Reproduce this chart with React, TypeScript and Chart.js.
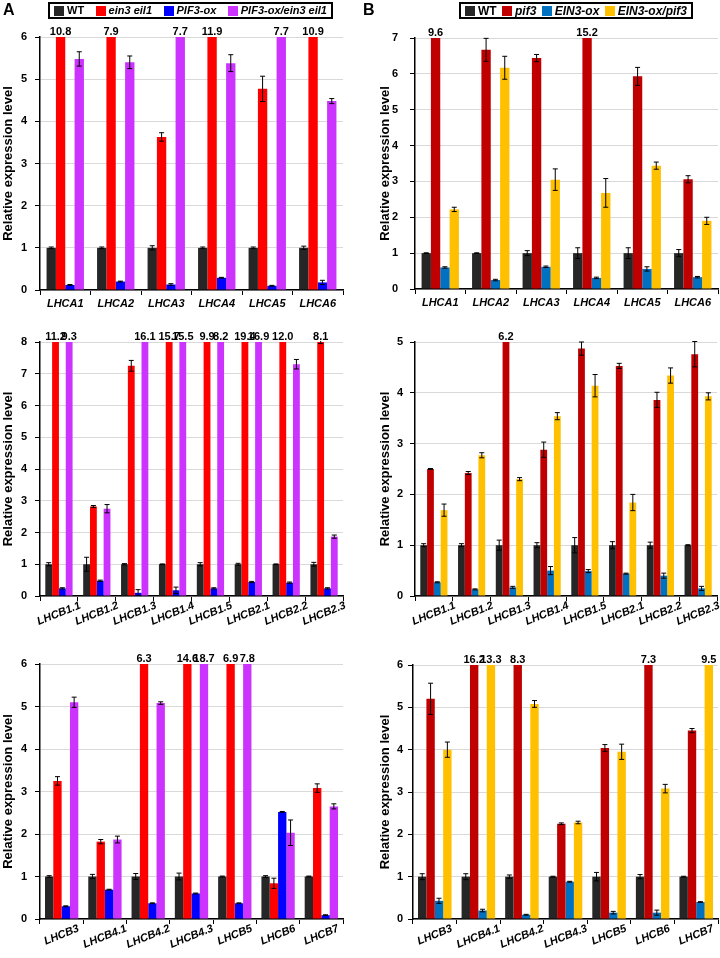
import React, { useEffect, useRef } from "react";
import { Chart, registerables } from "chart.js";

Chart.register(...registerables);

const FONT = "'Liberation Sans', Arial, Helvetica, sans-serif";

// ---------- categories ----------
const lhcaGenes = ["LHCA1", "LHCA2", "LHCA3", "LHCA4", "LHCA5", "LHCA6"];
const lhcb1Genes = ["LHCB1.1", "LHCB1.2", "LHCB1.3", "LHCB1.4", "LHCB1.5", "LHCB2.1", "LHCB2.2", "LHCB2.3"];
const lhcb3Genes = ["LHCB3", "LHCB4.1", "LHCB4.2", "LHCB4.3", "LHCB5", "LHCB6", "LHCB7"];

// ---------- series names ----------
const seriesA = ["WT", "ein3 eil1", "PIF3-ox", "PIF3-ox/ein3 eil1"];
const seriesB = ["WT", "pif3", "EIN3-ox", "EIN3-ox/pif3"];
const colorsA = ["#262626", "#FF0000", "#0000FF", "#CC33FF"];
const colorsB = ["#262626", "#C00000", "#0070C0", "#FFC000"];

// ---------- panel A, LHCA ----------
const aTopWT = [1, 1, 1, 1, 1, 1];
const aTopWTErr = [0.02, 0.02, 0.05, 0.02, 0.02, 0.04];
const aTopEin = [10.8, 7.9, 3.63, 11.9, 4.77, 10.9];
const aTopEinErr = [0, 0, 0.1, 0, 0.3, 0];
const aTopPif = [0.12, 0.2, 0.13, 0.29, 0.1, 0.18];
const aTopPifErr = [0.01, 0.01, 0.02, 0.01, 0.01, 0.05];
const aTopDbl = [5.48, 5.4, 7.7, 5.38, 7.7, 4.48];
const aTopDblErr = [0.17, 0.15, 0, 0.2, 0, 0.06];

// ---------- panel B, LHCA ----------
const bTopWT = [1, 1, 1, 1, 1, 1];
const bTopWTErr = [0.01, 0.01, 0.07, 0.15, 0.15, 0.1];
const bTopPif3 = [9.6, 6.67, 6.44, 15.2, 5.93, 3.06];
const bTopPif3Err = [0, 0.32, 0.1, 0, 0.25, 0.1];
const bTopEin = [0.6, 0.25, 0.62, 0.31, 0.56, 0.33];
const bTopEinErr = [0.02, 0.02, 0.02, 0.02, 0.06, 0.02];
const bTopDbl = [2.22, 6.17, 3.05, 2.68, 3.44, 1.9];
const bTopDblErr = [0.06, 0.32, 0.3, 0.4, 0.1, 0.1];

// ---------- panel A, LHCB1/2 ----------
const aMidWT = [1, 1, 1, 1, 1, 1, 1, 1];
const aMidWTErr = [0.05, 0.22, 0.02, 0.01, 0.05, 0.03, 0.01, 0.06];
const aMidEin = [11.2, 2.82, 7.25, 15.7, 9.9, 19.4, 12.0, 8.1];
const aMidEinErr = [0, 0.03, 0.17, 0, 0, 0, 0, 0.15];
const aMidPif = [0.24, 0.48, 0.1, 0.18, 0.24, 0.44, 0.42, 0.24];
const aMidPifErr = [0.02, 0.02, 0.1, 0.1, 0.02, 0.02, 0.02, 0.02];
const aMidDbl = [9.3, 2.75, 16.1, 15.5, 8.2, 16.9, 7.3, 1.87];
const aMidDblErr = [0, 0.13, 0, 0, 0, 0, 0.15, 0.05];

// ---------- panel B, LHCB1/2 ----------
const bMidWT = [1, 1, 1, 1, 1, 1, 1, 1];
const bMidWTErr = [0.03, 0.03, 0.1, 0.05, 0.15, 0.07, 0.06, 0.01];
const bMidPif3 = [2.5, 2.42, 6.2, 2.88, 4.87, 4.53, 3.86, 4.76];
const bMidPif3Err = [0.01, 0.03, 0, 0.15, 0.13, 0.05, 0.15, 0.25];
const bMidEin = [0.27, 0.13, 0.17, 0.5, 0.49, 0.44, 0.4, 0.15];
const bMidEinErr = [0.01, 0.01, 0.02, 0.08, 0.03, 0.01, 0.05, 0.04];
const bMidDbl = [1.69, 2.77, 2.3, 3.54, 4.14, 1.84, 4.34, 3.93];
const bMidDblErr = [0.12, 0.05, 0.03, 0.07, 0.22, 0.16, 0.15, 0.07];

// ---------- panel A, LHCB3-7 ----------
const aBotWT = [1, 1, 1, 1, 1, 1, 1];
const aBotWTErr = [0.02, 0.05, 0.07, 0.08, 0.01, 0.02, 0.01];
const aBotEin = [3.25, 1.82, 6.3, 14.6, 6.9, 0.84, 3.08];
const aBotEinErr = [0.1, 0.05, 0, 0, 0, 0.12, 0.1];
const aBotPif = [0.3, 0.69, 0.37, 0.6, 0.37, 2.52, 0.09];
const aBotPifErr = [0.01, 0.01, 0.01, 0.01, 0.01, 0.01, 0.01];
const aBotDbl = [5.1, 1.87, 5.08, 18.7, 7.8, 2.03, 2.65];
const aBotDblErr = [0.12, 0.08, 0.03, 0, 0, 0.3, 0.06];

// ---------- panel B, LHCB3-7 ----------
const bBotWT = [1, 1, 1, 1, 1, 1, 1];
const bBotWTErr = [0.07, 0.07, 0.04, 0.01, 0.1, 0.05, 0.01];
const bBotPif3 = [5.2, 16.2, 8.3, 2.25, 4.04, 7.3, 4.45];
const bBotPif3Err = [0.37, 0, 0, 0.02, 0.08, 0, 0.05];
const bBotEin = [0.43, 0.2, 0.1, 0.88, 0.15, 0.15, 0.4];
const bBotEinErr = [0.06, 0.03, 0.01, 0.01, 0.03, 0.06, 0.01];
const bBotDbl = [4.0, 13.3, 5.08, 2.28, 3.95, 3.08, 9.5];
const bBotDblErr = [0.18, 0, 0.08, 0.03, 0.18, 0.1, 0];

type PanelCfg = {
  left: number; top: number; width: number; height: number;
  area: { l: number; t: number; r: number; b: number };
  yMax: number;
  labels: string[];
  names: string[];
  colors: string[];
  values: number[][];
  errors: number[][];
  rotate: number;
  labelGap: number;
  titlePad: number;
  tickPad: number;
  catPct: number;
};

function makeDatasets(cfg: PanelCfg) {
  return cfg.values.map((v, i) => ({
    label: cfg.names[i],
    data: v,
    backgroundColor: cfg.colors[i],
    borderWidth: 0,
    categoryPercentage: cfg.catPct,
    barPercentage: 1,
  }));
}

function Panel({ cfg }: { cfg: PanelCfg }) {
  const ref = useRef<HTMLCanvasElement | null>(null);
  useEffect(() => {
    if (!ref.current) return;
    const extras = {
      id: "extras",
      afterDatasetsDraw(chart: any) {
        const { ctx, chartArea } = chart;
        const ys = chart.scales.y;
        // error bars
        ctx.save();
        ctx.beginPath();
        ctx.rect(chartArea.left, chartArea.top - 1, chartArea.right - chartArea.left, chartArea.bottom - chartArea.top + 1);
        ctx.clip();
        ctx.strokeStyle = "#000";
        ctx.lineWidth = 1;
        cfg.values.forEach((vals, di) => {
          const meta = chart.getDatasetMeta(di);
          vals.forEach((v, j) => {
            const e = cfg.errors[di][j];
            if (!e) return;
            const x = meta.data[j].x;
            const y1 = ys.getPixelForValue(v + e);
            const y2 = ys.getPixelForValue(v - e);
            ctx.beginPath();
            ctx.moveTo(x, y1); ctx.lineTo(x, y2);
            ctx.moveTo(x - 2.5, y1); ctx.lineTo(x + 2.5, y1);
            ctx.moveTo(x - 2.5, y2); ctx.lineTo(x + 2.5, y2);
            ctx.stroke();
          });
        });
        ctx.restore();
        // values of off-scale bars
        ctx.save();
        ctx.font = `bold 11px ${FONT}`;
        ctx.fillStyle = "#000";
        ctx.textAlign = "center";
        ctx.textBaseline = "alphabetic";
        cfg.values.forEach((vals, di) => {
          const meta = chart.getDatasetMeta(di);
          vals.forEach((v, j) => {
            if (v > cfg.yMax) ctx.fillText(v.toFixed(1), meta.data[j].x, chartArea.top - 2);
          });
        });
        ctx.restore();
      },
      afterDraw(chart: any) {
        const { ctx, chartArea } = chart;
        const xs = chart.scales.x;
        ctx.save();
        ctx.font = `italic bold 11px ${FONT}`;
        ctx.fillStyle = "#000";
        ctx.textAlign = "center";
        ctx.textBaseline = "middle";
        const th = (cfg.rotate * Math.PI) / 180;
        cfg.labels.forEach((lab, i) => {
          const x = xs.getPixelForValue(i);
          const w = ctx.measureText(lab).width;
          const h = 11;
          const cy = chartArea.bottom + cfg.labelGap + (w * Math.sin(th) + h * Math.cos(th)) / 2;
          ctx.save();
          ctx.translate(x, cy);
          ctx.rotate(-th);
          ctx.fillText(lab, 0, 0);
          ctx.restore();
        });
        ctx.restore();
      },
    };
    const chart = new Chart(ref.current, {
      type: "bar",
      data: { labels: cfg.labels, datasets: makeDatasets(cfg) as any },
      options: {
        responsive: false,
        maintainAspectRatio: false,
        animation: false,
        devicePixelRatio: 1,
        layout: { padding: { top: cfg.area.t, right: cfg.width - cfg.area.r, left: 0, bottom: 0 } },
        plugins: { legend: { display: false }, tooltip: { enabled: false }, title: { display: false } },
        scales: {
          x: {
            offset: true,
            ticks: { display: false },
            grid: { offset: true, drawOnChartArea: false, drawTicks: true, tickLength: 5, color: "#000", tickColor: "#000", lineWidth: 1 },
            border: { display: true, color: "#000", width: 1.5 },
            afterFit: (s: any) => { s.height = cfg.height - cfg.area.b; },
          },
          y: {
            min: 0,
            max: cfg.yMax,
            ticks: { stepSize: 1, color: "#000", padding: cfg.tickPad, font: { family: FONT, size: 11, weight: "bold" } },
            grid: { color: "#D9D9D9", tickColor: "#000", tickLength: 5, lineWidth: 1 },
            border: { display: true, color: "#000", width: 1.5 },
            title: {
              display: true,
              text: "Relative expression level",
              color: "#000",
              font: { family: FONT, size: 13, weight: "bold" },
              padding: { top: cfg.titlePad, bottom: 0 },
            },
            afterFit: (s: any) => { s.width = cfg.area.l; },
          },
        },
      },
      plugins: [extras],
    });
    return () => chart.destroy();
  }, [cfg]);
  return (
    <canvas
      ref={ref}
      width={cfg.width}
      height={cfg.height}
      style={{ position: "absolute", left: cfg.left, top: cfg.top, width: cfg.width, height: cfg.height }}
    />
  );
}

const panels: PanelCfg[] = [
  {
    left: 0, top: 0, width: 360, height: 310,
    area: { l: 40, t: 37, r: 343, b: 290 }, yMax: 6, labels: lhcaGenes,
    names: seriesA, colors: colorsA,
    values: [aTopWT, aTopEin, aTopPif, aTopDbl], errors: [aTopWTErr, aTopEinErr, aTopPifErr, aTopDblErr],
    rotate: 0, labelGap: 8, titlePad: 1, tickPad: 8, catPct: 0.74,
  },
  {
    left: 360, top: 0, width: 360, height: 310,
    area: { l: 55, t: 38, r: 358, b: 289 }, yMax: 7, labels: lhcaGenes,
    names: seriesB, colors: colorsB,
    values: [bTopWT, bTopPif3, bTopEin, bTopDbl], errors: [bTopWTErr, bTopPif3Err, bTopEinErr, bTopDblErr],
    rotate: 0, labelGap: 8, titlePad: 18, tickPad: 12, catPct: 0.74,
  },
  {
    left: 0, top: 310, width: 360, height: 330,
    area: { l: 40, t: 32, r: 343, b: 286 }, yMax: 8, labels: lhcb1Genes,
    names: seriesA, colors: colorsA,
    values: [aMidWT, aMidEin, aMidPif, aMidDbl], errors: [aMidWTErr, aMidEinErr, aMidPifErr, aMidDblErr],
    rotate: 22, labelGap: 4, titlePad: 1, tickPad: 8, catPct: 0.72,
  },
  {
    left: 360, top: 310, width: 360, height: 330,
    area: { l: 55, t: 32, r: 357, b: 286 }, yMax: 5, labels: lhcb1Genes,
    names: seriesB, colors: colorsB,
    values: [bMidWT, bMidPif3, bMidEin, bMidDbl], errors: [bMidWTErr, bMidPif3Err, bMidEinErr, bMidDblErr],
    rotate: 22, labelGap: 4, titlePad: 18, tickPad: 7, catPct: 0.72,
  },
  {
    left: 0, top: 640, width: 360, height: 318,
    area: { l: 40, t: 24, r: 343, b: 279 }, yMax: 6, labels: lhcb3Genes,
    names: seriesA, colors: colorsA,
    values: [aBotWT, aBotEin, aBotPif, aBotDbl], errors: [aBotWTErr, aBotEinErr, aBotPifErr, aBotDblErr],
    rotate: 22, labelGap: 4, titlePad: 1, tickPad: 8, catPct: 0.77,
  },
  {
    left: 360, top: 640, width: 360, height: 318,
    area: { l: 53, t: 25, r: 358, b: 279 }, yMax: 6, labels: lhcb3Genes,
    names: seriesB, colors: colorsB,
    values: [bBotWT, bBotPif3, bBotEin, bBotDbl], errors: [bBotWTErr, bBotPif3Err, bBotEinErr, bBotDblErr],
    rotate: 22, labelGap: 4, titlePad: 18, tickPad: 5, catPct: 0.77,
  },
];

function Legend({ left, width, names, colors, size }: { left: number; width: number; names: string[]; colors: string[]; size: number }) {
  return (
    <div
      style={{
        position: "absolute", left, top: 2, width, height: 17, boxSizing: "border-box",
        border: "2px solid #000", display: "flex", alignItems: "center", justifyContent: "space-between",
        padding: "0 4px 0 4px", fontFamily: FONT, fontWeight: "bold", fontSize: size, color: "#000",
        whiteSpace: "nowrap", lineHeight: 1, background: "#fff",
      }}
    >
      {names.map((n, i) => (
        <span key={n} style={{ display: "flex", alignItems: "center" }}>
          <span style={{ display: "inline-block", width: 10, height: 10, background: colors[i], marginRight: 3 }} />
          <span style={{ fontStyle: i === 0 ? "normal" : "italic" }}>{n}</span>
        </span>
      ))}
    </div>
  );
}

export default function App() {
  return (
    <div style={{ position: "absolute", left: 0, top: 0, width: 720, height: 958, background: "#fff", overflow: "hidden" }}>
      {panels.map((p, i) => (
        <Panel key={i} cfg={p} />
      ))}
      <div style={{ position: "absolute", left: 3, top: 2, fontFamily: FONT, fontWeight: "bold", fontSize: 16, lineHeight: 1 }}>A</div>
      <div style={{ position: "absolute", left: 363, top: 2, fontFamily: FONT, fontWeight: "bold", fontSize: 16, lineHeight: 1 }}>B</div>
      <Legend left={48} width={285} names={seriesA} colors={colorsA} size={11} />
      <Legend left={459} width={234} names={seriesB} colors={colorsB} size={12} />
    </div>
  );
}
